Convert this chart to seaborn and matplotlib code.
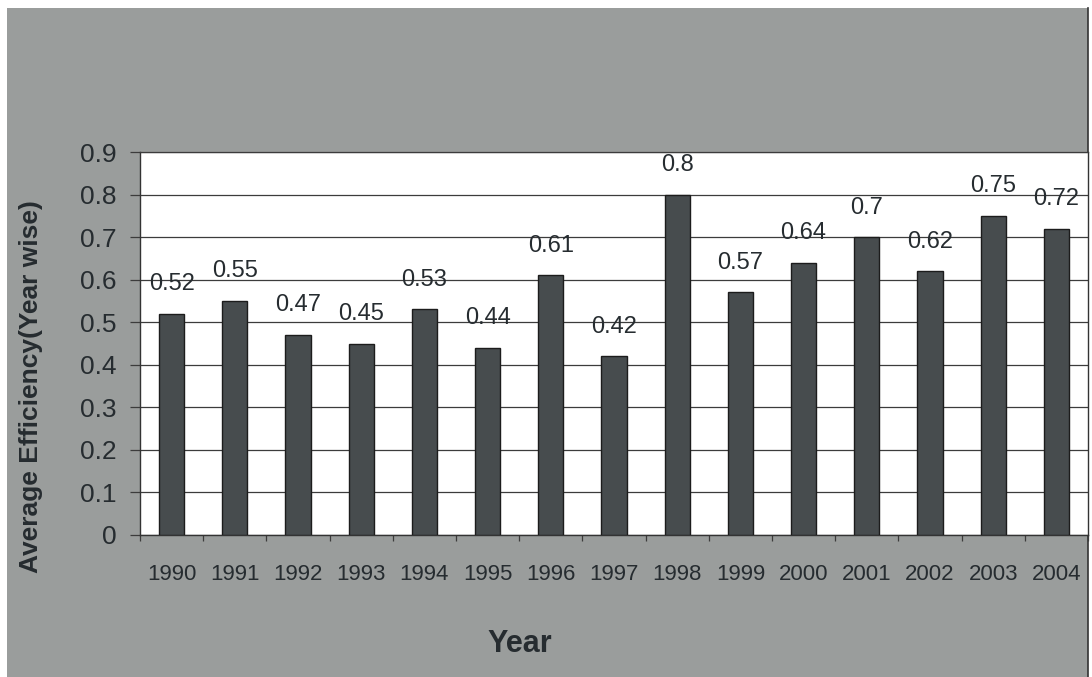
import matplotlib
matplotlib.use("Agg")
import matplotlib.pyplot as plt
import numpy as np
import pandas as pd
import seaborn as sns
from matplotlib.patches import Rectangle
from matplotlib.lines import Line2D

# Data
years = ["1990", "1991", "1992", "1993", "1994", "1995", "1996", "1997",
         "1998", "1999", "2000", "2001", "2002", "2003", "2004"]
efficiency = [0.52, 0.55, 0.47, 0.45, 0.53, 0.44, 0.61, 0.42,
              0.80, 0.57, 0.64, 0.70, 0.62, 0.75, 0.72]
y_ticks = [0, 0.1, 0.2, 0.3, 0.4, 0.5, 0.6, 0.7, 0.8, 0.9]
y_tick_labels = ["0", "0.1", "0.2", "0.3", "0.4", "0.5", "0.6", "0.7", "0.8", "0.9"]

df = pd.DataFrame({"Year": years, "Efficiency": efficiency})

# Colours
BG = "#9a9d9c"
BAR = "#474c4e"
TXT = "#262c30"
GRID = "#3c3c3c"

plt.rcParams["font.family"] = ["Liberation Sans", "DejaVu Sans"]

W, H = 1092, 677
fig = plt.figure(figsize=(W / 100, H / 100), dpi=100, facecolor="white")

# grey chart-area panel
fig.patches.append(Rectangle((7 / W, 0), (1088 - 7) / W, (H - 8) / H,
                             transform=fig.transFigure, facecolor=BG,
                             edgecolor="none", zorder=-10))
fig.lines.append(Line2D([1088 / W, 1088 / W], [0, (H - 8) / H],
                        transform=fig.transFigure, color="#333333", lw=1.2,
                        zorder=-9))

ax = fig.add_axes([140 / W, (H - 535) / H, 948 / W, 383 / H])
ax.set_facecolor("white")

sns.barplot(data=df, x="Year", y="Efficiency", color=BAR, width=0.4,
            saturation=1, edgecolor="#1c1c1c", linewidth=1.0, ax=ax, zorder=3)

ax.set_ylim(0, 0.9)
ax.set_xlim(-0.5, len(years) - 0.5)
ax.set_yticks(y_ticks)
ax.set_yticklabels(y_tick_labels)
ax.yaxis.grid(True, color=GRID, lw=0.9)
ax.set_axisbelow(True)

# value labels above bars
for i, v in enumerate(efficiency):
    ax.annotate(f"{v:g}", (i, v), xytext=(0, 17), textcoords="offset points",
                ha="center", va="baseline", fontsize=17, color=TXT,
                annotation_clip=False)

# ticks
ax.tick_params(axis="y", direction="out", length=7, width=0.9, pad=10,
               labelsize=19, labelcolor=TXT, color=GRID)
ax.tick_params(axis="x", which="major", length=0, pad=21,
               labelsize=16, labelcolor=TXT)
ax.set_xticks(np.arange(-0.5, len(years), 1), minor=True)
ax.tick_params(axis="x", which="minor", direction="out", length=4,
               width=0.9, color=GRID)

for side in ["left", "bottom", "right"]:
    ax.spines[side].set_color("#333333")
    ax.spines[side].set_linewidth(1.0)
ax.spines["top"].set_color(GRID)
ax.spines["top"].set_linewidth(0.9)

ax.set_xlabel("")
ax.set_ylabel("")
fig.text(31 / W, 1 - 387 / H, "Average Efficiency(Year wise)", rotation=90,
         ha="center", va="center", fontsize=19, fontweight="bold", color=TXT)
fig.text(520 / W, 1 - 644 / H, "Year", ha="center", va="center",
         fontsize=22, fontweight="bold", color=TXT)

fig.savefig("out.png", dpi=100, facecolor=fig.get_facecolor())
